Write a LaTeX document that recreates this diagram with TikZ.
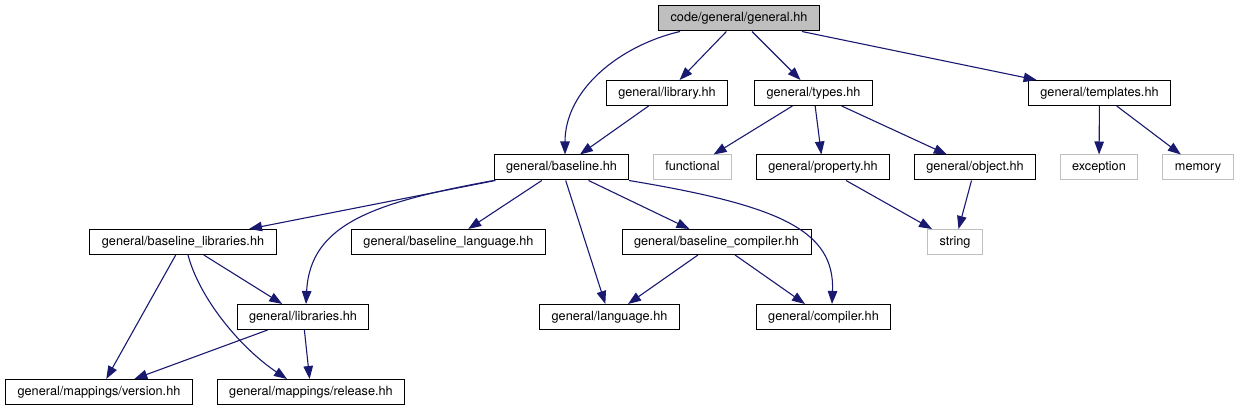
\documentclass[tikz,border=0pt]{standalone}
\usepackage{fontspec}
\setmainfont{TeX Gyre Heros}
\usetikzlibrary{arrows.meta}
\definecolor{edgeblue}{HTML}{191970}
\definecolor{sysgray}{HTML}{BFBFBF}

\begin{document}
\begin{tikzpicture}[x=1pt,y=1pt,font=\fontsize{12.7}{15}\selectfont,file/.style={draw=black,line width=1pt,fill=white,minimum height=25pt,text height=9.4pt,text depth=2.8pt,inner xsep=12pt,inner ysep=0pt},sys/.style={file,draw=sysgray},root/.style={file,fill=sysgray},dep/.style={-{Triangle[length=13pt,width=9.5pt]},draw=edgeblue,line width=1.1pt}]
\useasboundingbox (0,0) rectangle (1238,-411);
\node[root] (gen) at (739,-18.5) {code/general/general.hh};
\node[file] (lib) at (667,-93) {general/library.hh};
\node[file] (types) at (813.5,-93) {general/types.hh};
\node[file] (templ) at (1099.5,-93) {general/templates.hh};
\node[file] (base) at (561.5,-167.5) {general/baseline.hh};
\node[sys] (func) at (692.5,-167.5) {functional};
\node[file] (prop) at (823,-167.5) {general/property.hh};
\node[file] (obj) at (975,-167.5) {general/object.hh};
\node[sys] (exc) at (1099,-167.5) {exception};
\node[sys] (mem) at (1198,-167.5) {memory};
\node[file] (blib) at (183,-242) {general/baseline\_libraries.hh};
\node[file] (blang) at (448.5,-242) {general/baseline\_language.hh};
\node[file] (bcomp) at (716.5,-242) {general/baseline\_compiler.hh};
\node[sys] (str) at (955,-242) {string};
\node[file] (libs) at (303,-317) {general/libraries.hh};
\node[file] (lang) at (609.5,-317) {general/language.hh};
\node[file] (comp) at (823.5,-317) {general/compiler.hh};
\node[file] (ver) at (99,-392) {general/mappings/version.hh};
\node[file] (rel) at (311,-392) {general/mappings/release.hh};
\foreach \s/\t in {gen/lib,gen/types,gen/templ,lib/base,types/func,types/prop,types/obj,templ/exc,templ/mem,base/blib,base/blang,base/lang,base/bcomp,prop/str,obj/str,blib/libs,blib/ver,libs/ver,libs/rel,bcomp/lang,bcomp/comp}\draw[dep] (\s)--(\t);
% bent edges
\draw[dep] ([xshift=-59pt]gen.south) .. controls +(-60,-14) and +(0,65) .. ([xshift=3.5pt]base.north);
\draw[dep] (base.south west) .. controls +(-120,-22) and +(4,80) .. ([xshift=3pt]libs.north);
\draw[dep] ([xshift=67.5pt]base.south) .. controls +(150,-25) and +(3,74) .. ([xshift=8.5pt]comp.north);
\draw[dep] ([xshift=5pt]blib.south) .. controls +(12,-45) and +(-45,30) .. ([xshift=-24pt]rel.north);
\end{tikzpicture}
\end{document}
